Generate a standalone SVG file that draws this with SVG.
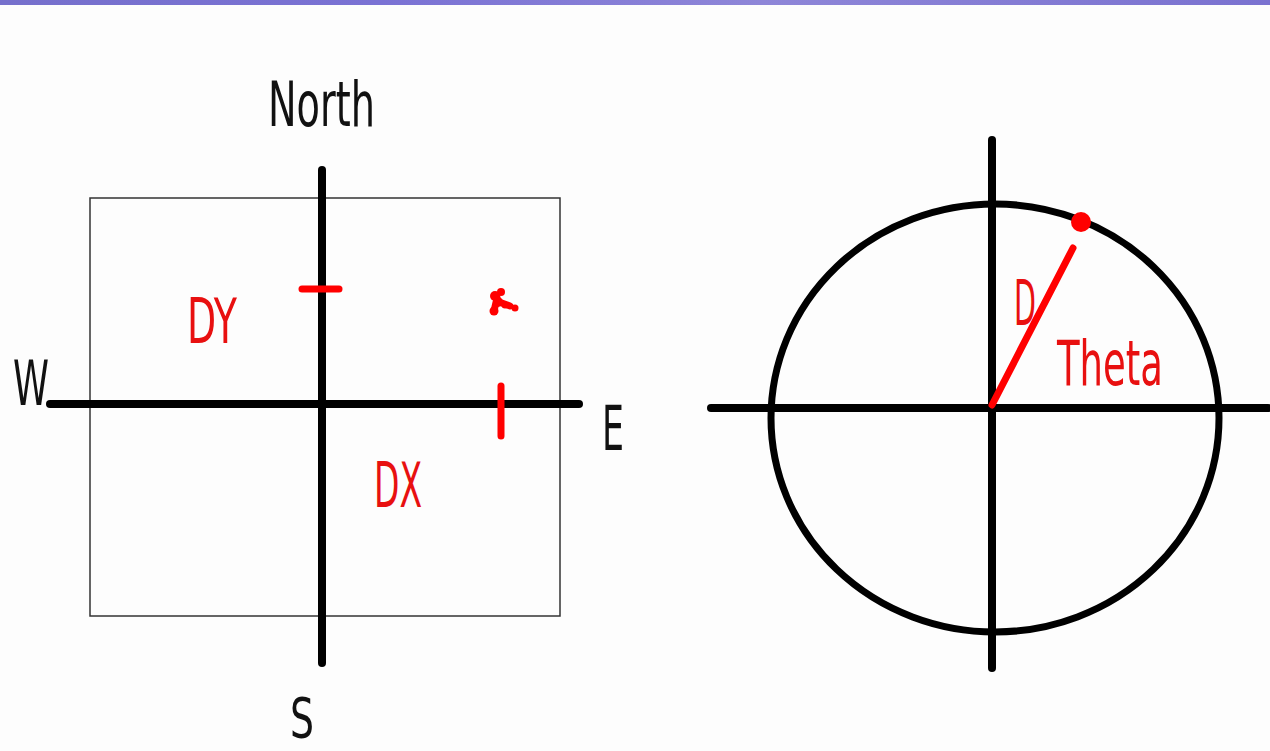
<svg xmlns="http://www.w3.org/2000/svg" width="1270" height="751" viewBox="0 0 1270 751">
<defs>
<linearGradient id="bar" x1="0" y1="0" x2="1" y2="0">
<stop offset="0" stop-color="#7670cc"/>
<stop offset="0.3" stop-color="#7a72d4"/>
<stop offset="0.6" stop-color="#8e86d8"/>
<stop offset="1" stop-color="#7a72d0"/>
</linearGradient>
</defs>
<style>
.ax{stroke:#000;stroke-width:8;stroke-linecap:round;fill:none}
.rd{stroke:#f00;stroke-width:7;stroke-linecap:round;fill:none}
.t{font-family:"DejaVu Sans Condensed","Liberation Sans Narrow","Liberation Sans",sans-serif;font-weight:normal;font-size:62px}
.k{fill:#111}
.r{fill:#e81010}
</style>
<rect x="0" y="0" width="1270" height="751" fill="#fdfdfd"/>
<rect x="0" y="0" width="1270" height="5" fill="url(#bar)"/>
<g id="left-frame">
<rect x="90" y="198" width="470" height="418" fill="none" stroke="#333" stroke-width="1.5"/>
</g>
<g id="connectors">
<line class="ax" x1="322" y1="170" x2="322" y2="663"/>
<line class="ax" x1="50" y1="404" x2="579" y2="404"/>
<line class="ax" x1="992" y1="140" x2="992" y2="668"/>
<line class="ax" x1="711" y1="408" x2="1268" y2="408"/>
<ellipse cx="995" cy="418" rx="224" ry="214" fill="none" stroke="#000" stroke-width="7"/>
<line class="rd" x1="302" y1="289" x2="339" y2="289"/>
<line class="rd" x1="501" y1="386" x2="501" y2="436"/>
<line class="rd" x1="992" y1="405" x2="1073" y2="248"/>
</g>
<g id="marker-splat" fill="#f00">
<circle cx="495" cy="296" r="5"/>
<circle cx="501" cy="292" r="4"/>
<circle cx="498" cy="302" r="5"/>
<circle cx="494" cy="311" r="4.5"/>
<circle cx="505" cy="305" r="3.5"/>
<circle cx="515" cy="308" r="3.5"/>
<line class="rd" x1="497" y1="298" x2="494" y2="311" stroke-width="7"/>
<line class="rd" x1="499" y1="302" x2="510" y2="306" stroke-width="5"/>
</g>
<g id="point-dot">
<circle cx="1081" cy="222" r="10" fill="#f00"/>
</g>
<g id="labels">
<text class="t k" x="268" y="126" textLength="107" lengthAdjust="spacingAndGlyphs">North</text>
<text class="t k" x="13" y="405" textLength="36" lengthAdjust="spacingAndGlyphs">W</text>
<text class="t k" x="602" y="450" textLength="22" lengthAdjust="spacingAndGlyphs">E</text>
<text class="t k" x="290" y="737" font-size="56" style="font-size:56px" textLength="24" lengthAdjust="spacingAndGlyphs">S</text>
<text class="t r" x="187" y="343" textLength="50" lengthAdjust="spacingAndGlyphs">DY</text>
<text class="t r" x="374" y="507" textLength="48" lengthAdjust="spacingAndGlyphs">DX</text>
<text class="t r" x="1014" y="325" textLength="22" lengthAdjust="spacingAndGlyphs">D</text>
<text class="t r" x="1057" y="385" textLength="106" lengthAdjust="spacingAndGlyphs">Theta</text>
</g>
</svg>
